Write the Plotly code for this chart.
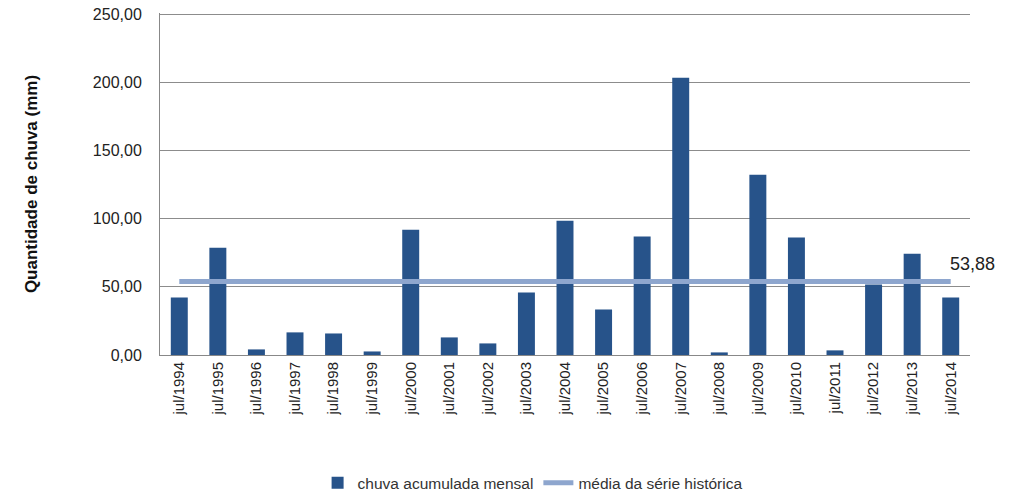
import plotly.graph_objects as go

categories = ["jul/1994", "jul/1995", "jul/1996", "jul/1997", "jul/1998", "jul/1999",
              "jul/2000", "jul/2001", "jul/2002", "jul/2003", "jul/2004", "jul/2005",
              "jul/2006", "jul/2007", "jul/2008", "jul/2009", "jul/2010", "jul/2011",
              "jul/2012", "jul/2013", "jul/2014"]
rain = [42.2, 78.8, 4.1, 16.6, 15.8, 2.6, 92.0, 12.9, 8.5, 45.9, 98.6, 33.4,
        86.9, 203.4, 1.9, 132.3, 86.2, 3.4, 51.7, 74.4, 42.2]
mean_value = 53.88
mean_label = "53,88"
y_ticks = [0, 50, 100, 150, 200, 250]

FONT = "Liberation Sans"

fig = go.Figure()
fig.add_trace(go.Bar(
    x=categories, y=rain, name="chuva acumulada mensal",
    marker=dict(color="#27538A", line=dict(width=0)),
))
fig.add_trace(go.Scatter(
    x=[categories[0], categories[-1]], y=[mean_value, mean_value],
    mode="lines", name="média da série histórica",
    line=dict(color="#8EA6CE", width=5),
))
fig.add_annotation(
    x=categories[-1], y=mean_value, text=mean_label, showarrow=False,
    xanchor="left", yanchor="bottom", xshift=-3, yshift=6,
    font=dict(family=FONT, size=18, color="#222"),
)

fig.update_layout(
    width=1015, height=498,
    margin=dict(l=160, r=45, t=13, b=143, autoexpand=False),
    paper_bgcolor="white", plot_bgcolor="white",
    separators=",.",
    bargap=0.56,
    font=dict(family=FONT, size=13, color="#333"),
    showlegend=True,
    legend=dict(orientation="h", x=0.46, xanchor="center", y=-0.325, yanchor="top",
                font=dict(family=FONT, size=15.5, color="#333"),
                itemwidth=30, tracegroupgap=0),
)
fig.update_xaxes(
    type="category", range=[-0.5, len(categories) - 0.5],
    tickangle=-90, showgrid=False, automargin=False,
    showline=True, linecolor="#888", linewidth=1,
    ticks="outside", ticklen=0, tickfont=dict(size=15, color="#222"),
)
fig.update_yaxes(
    range=[0, 251], tickvals=y_ticks, tickformat=".2f", automargin=False,
    showgrid=True, gridcolor="#8c8c8c", gridwidth=1,
    showline=True, linecolor="#888", linewidth=1, zeroline=False,
    ticks="", ticklabelstandoff=14, tickfont=dict(size=16, color="#222"),
    title=dict(text="<b>Quantidade de chuva (mm)</b>", font=dict(size=17, color="#111"), standoff=50),
)

fig.write_html(
    "out.html",
    config={"displayModeBar": False},
    post_script="document.body.style.margin='0';document.documentElement.style.overflow='hidden';",
)
